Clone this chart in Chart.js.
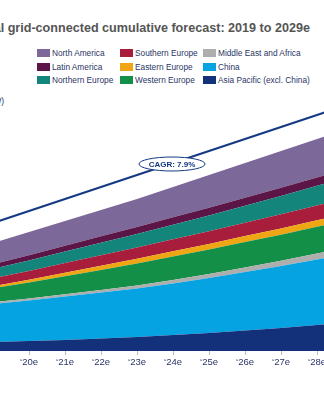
<!DOCTYPE html>
<html>
<head>
<meta charset="utf-8">
<script src="https://cdn.jsdelivr.net/npm/chart.js@4.4.0/dist/chart.umd.min.js"></script>
<style>
  html, body { margin: 0; padding: 0; background: #fff; }
  body { width: 324px; height: 400px; overflow: hidden; position: relative; font-family: "Liberation Sans", Arial, sans-serif; }
  #title { position: absolute; left: -200px; width: 510px; top: 21px; text-align: right; white-space: nowrap; font-weight: bold; font-size: 12.6px; color: #555; }
  #yTitle { position: absolute; left: -200px; width: 204px; top: 96px; text-align: right; white-space: nowrap; font-size: 8.3px; color: #2a3566; }
  .item { position: absolute; height: 10px; white-space: nowrap; font-size: 8.3px; line-height: 10px; color: #2a3566; }
  .item span { position: absolute; left: 0; top: 1px; width: 13px; height: 8px; }
  .item b { position: absolute; left: 15px; top: 0; font-weight: normal; }
  #chart { position: absolute; left: -40px; top: 91px; }
</style>
</head>
<body>
<div id="title">Global grid-connected cumulative forecast: 2019 to 2029e</div>
<div id="yTitle">Cumulative capacity (GW)</div>
<div id="legend"></div>
<canvas id="chart" width="404" height="284"></canvas>
<script>
// Data
var years = ['\u201819', '\u201820e', '\u201821e', '\u201822e', '\u201823e', '\u201824e', '\u201825e', '\u201826e', '\u201827e', '\u201828e', '\u201829e']

// stack order, bottom first
var regions = [
    'Asia Pacific (excl. China)',
    'China',
    'Middle East and Africa',
    'Western Europe',
    'Eastern Europe',
    'Southern Europe',
    'Northern Europe',
    'Latin America',
    'North America'
]
var colors = ['#13307a', '#06a3e3', '#aeaeae', '#138f48', '#eea614', '#a81c3c', '#13857a', '#5b1647', '#7c6999']

var asiaPacific = [90, 100, 110, 125, 140, 160, 180, 205, 230, 260, 290]
var china = [380, 405, 435, 460, 485, 515, 550, 585, 620, 655, 685]
var middleEast = [18, 20, 23, 26, 30, 35, 40, 46, 53, 60, 68]
var westernEurope = [140, 160, 180, 200, 220, 235, 245, 253, 260, 267, 273]
var easternEurope = [20, 28, 35, 42, 48, 52, 56, 60, 63, 66, 70]
var southernEurope = [80, 88, 96, 104, 112, 120, 127, 134, 141, 148, 155]
var northernEurope = [95, 105, 115, 125, 135, 146, 158, 170, 183, 196, 210]
var latinAmerica = [45, 52, 59, 65, 70, 74, 77, 80, 82, 83, 85]
var northAmerica = [212, 232, 247, 263, 280, 303, 327, 347, 368, 385, 404]

var cagrLine = [1280, 1400, 1520, 1640, 1760, 1880, 2000, 2120, 2240, 2360, 2480]
var cagrText = 'CAGR: 7.9%'

var series = [asiaPacific, china, middleEast, westernEurope, easternEurope, southernEurope, northernEurope, latinAmerica, northAmerica]

// Legend (column by column, top of stack first)
var legend = document.getElementById('legend')
for (let k = 0; k < regions.length; k++) {
    var i = regions.length - 1 - k
    var div = document.createElement('div')
    div.className = 'item'
    div.style.left = (37 + Math.floor(k / 3) * 83) + 'px'
    div.style.top = (48 + (k % 3) * 13.5) + 'px'
    div.innerHTML = '<span style="background:' + colors[i] + '"></span><b>' + regions[i] + '</b>'
    legend.appendChild(div)
}

var datasets = []
for (let i = 0; i < series.length; i++) {
    datasets.push({
        label: regions[i],
        data: series[i],
        backgroundColor: colors[i],
        borderWidth: 0,
        pointRadius: 0,
        fill: i == 0 ? 'origin' : '-1',
        stack: 'regions'
    })
}
datasets.push({
    label: 'CAGR',
    data: cagrLine,
    borderColor: '#143982',
    borderWidth: 2,
    pointRadius: 0,
    fill: false,
    stack: 'cagr'
})

// CAGR bubble on the line
var cagrLabel = {
    id: 'cagrLabel',
    afterDatasetsDraw(chart) {
        var meta = chart.getDatasetMeta(datasets.length - 1)
        var p = meta.data[5]
        var c = chart.ctx
        c.save()
        c.beginPath()
        c.ellipse(p.x - 1, p.y + 1, 33, 7, 0, 0, Math.PI * 2)
        c.fillStyle = '#fff'
        c.fill()
        c.lineWidth = 1
        c.strokeStyle = '#143982'
        c.stroke()
        c.fillStyle = '#143982'
        c.font = 'bold 8px "Liberation Sans", Arial, sans-serif'
        c.textAlign = 'center'
        c.textBaseline = 'middle'
        c.fillText(cagrText, p.x - 1, p.y + 1.5)
        c.restore()
    }
}

var ctx = document.getElementById('chart').getContext('2d')
var myChart = new Chart(ctx, {
    type: 'line',
    data: { labels: years, datasets: datasets },
    plugins: [cagrLabel],
    options: {
        responsive: false,
        animation: false,
        devicePixelRatio: 1,
        layout: { padding: { left: 33, right: 11, top: 0, bottom: 0 } },
        plugins: { legend: { display: false }, tooltip: { enabled: false } },
        elements: { line: { tension: 0 } },
        scales: {
            x: {
                grid: { display: true, drawOnChartArea: false, drawTicks: true, tickLength: 4, color: '#bbbbbb' },
                border: { display: false },
                ticks: { color: '#2a3566', font: { family: '"Liberation Sans", Arial, sans-serif', size: 9.5 }, padding: 2, maxRotation: 0, autoSkip: false },
                afterFit: function (s) { s.height = 24 }
            },
            y: { display: false, stacked: true, min: 0, max: 2600 }
        }
    }
})
</script>
</body>
</html>
